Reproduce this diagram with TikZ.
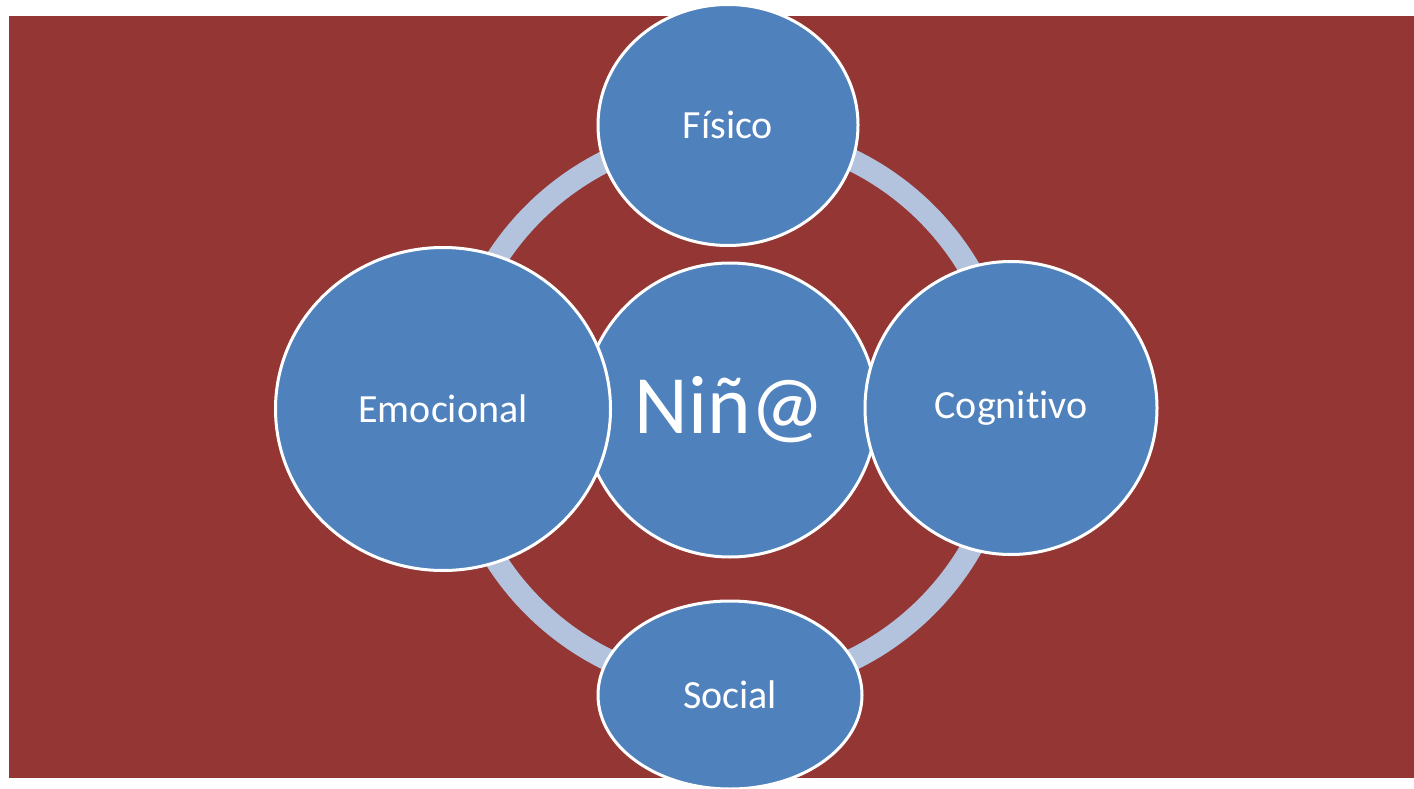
\documentclass[tikz,border=0pt]{standalone}
\usepackage{fontspec}
\setmainfont{Carlito}[Ligatures=NoCommon]
\usetikzlibrary{shapes.geometric}
\definecolor{bgred}{HTML}{943634}
\definecolor{ballblue}{HTML}{4F81BD}
\definecolor{ringblue}{HTML}{B3C3DE}
\tikzset{
  ball/.style={ellipse, draw=white, line width=3pt, fill=ballblue, inner sep=0pt,
    text=white, font=\fontsize{40}{48}\selectfont},
}
\begin{document}
\begin{tikzpicture}[x=1pt,y=-1pt]
\fill[white] (0,0) rectangle (1414,789);
\useasboundingbox (0,0) rectangle (1414,789);
\fill[bgred] (9,16) rectangle (1414,778);
\coordinate (ctr) at (730,410);
\draw[ringblue, line width=22pt] (ctr) circle [radius=278pt];
\node[ball, minimum width=294pt, minimum height=294pt, font=\fontsize{83}{96}\selectfont] (nina) at (ctr) {Niñ@};
\node[ball, minimum width=260pt, minimum height=241pt] (fisico) at (728,125) {Físico};
\node[ball, minimum width=335pt, minimum height=323pt] (emo) at (443,409) {Emocional};
\node[ball, minimum width=292pt, minimum height=293pt] (cog) at (1011,408) {Cognitivo};
\node[ball, minimum width=264pt, minimum height=188pt] (social) at (730,695) {Social};
\end{tikzpicture}
\end{document}
